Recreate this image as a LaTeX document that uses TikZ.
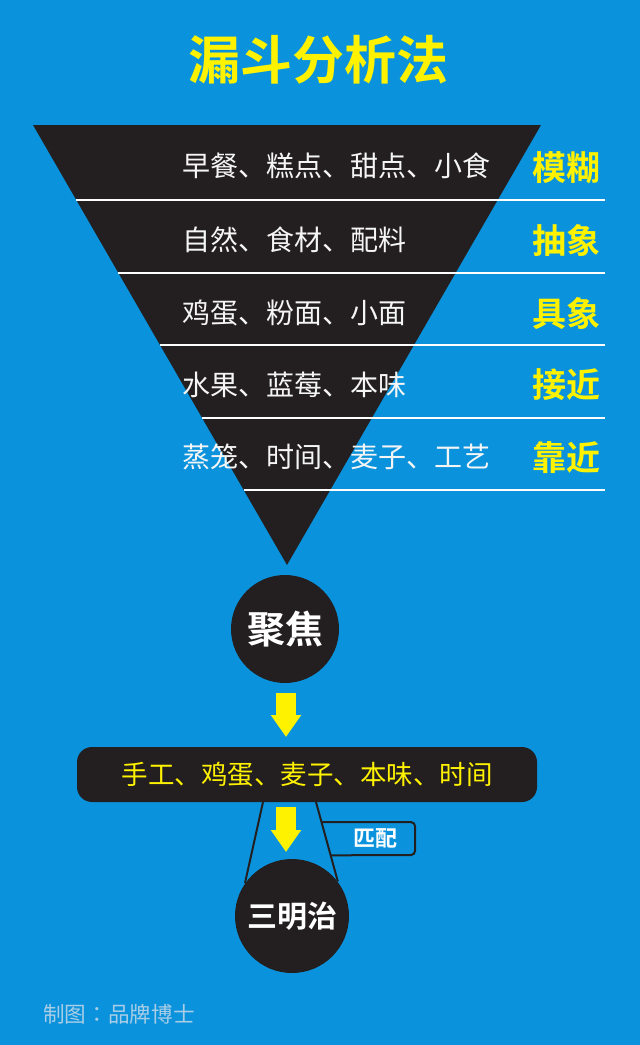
\documentclass[tikz,border=0pt]{standalone}
\usepackage{fontspec}
\setmainfont{Noto Sans CJK SC}[BoldFont={Noto Sans CJK SC Bold}]
\newfontfamily\cjktc{Noto Sans CJK TC}
\usepackage{tikz}
\usetikzlibrary{arrows.meta,calc}
\definecolor{bgblue}{HTML}{0A93DC}
\definecolor{cblack}{HTML}{231F20}
\definecolor{cyellow}{HTML}{FFF200}
\definecolor{cgrey}{HTML}{A9CDE6}

\begin{document}
\begin{tikzpicture}[x=0.5pt,y=-0.5pt,
    item/.style={anchor=west,text=white!92!gray,inner sep=0,font=\fontsize{14}{16}\selectfont},
    level/.style={text=cyellow,inner sep=0,font=\fontsize{17}{19}\selectfont\bfseries},
    sep/.style={white,line width=1pt},
    blob/.style={circle,fill=cblack,text=white,inner sep=0},
    fat/.style={cyellow,line width=10pt,-{Triangle[width=14.5pt,length=11pt]}},
    cone/.style={cblack,line width=1pt}]
      \useasboundingbox (0,0) rectangle (640,1045);
      \fill[bgblue] (0,0) rectangle (640,1045);
      \node[text=cyellow,font=\fontsize{26}{30}\selectfont\bfseries] (title) at (318,60) {漏斗分析法};
      \coordinate (tl) at (33,125);
      \coordinate (tr) at (541,125);
      \coordinate (tip) at (287,565);
      \fill[cblack] (tl) -- (tr) -- (tip) -- cycle;
      \coordinate (s1) at (76.3,200);
      \coordinate (s2) at (118.4,273);
      \coordinate (s3) at (160,345);
      \coordinate (s4) at (202.1,418);
      \coordinate (s5) at (243.6,490);
      \coordinate (e1) at (605,200);
      \coordinate (e2) at (605,273);
      \coordinate (e3) at (605,345);
      \coordinate (e4) at (605,418);
      \coordinate (e5) at (605,490);
      \draw[sep] (s1) -- (e1);
      \draw[sep] (s2) -- (e2);
      \draw[sep] (s3) -- (e3);
      \draw[sep] (s4) -- (e4);
      \draw[sep] (s5) -- (e5);
      \node[item] (r1) at (182,166) {早餐、糕点、甜点、小食};
      \node[item] (r2) at (182,240) {自然、食材、配料};
      \node[item] (r3) at (182,313) {鸡蛋、粉面、小面};
      \node[item] (r4) at (182,385) {水果、蓝莓、本味};
      \node[item] (r5) at (182,457) {蒸笼、时间、麦子、工艺};
      \node[level] (l1) at (566,168) {模糊};
      \node[level] (l2) at (566,241) {抽象};
      \node[level] (l3) at (566,314) {具象};
      \node[level] (l4) at (566,385) {接近};
      \node[level] (l5) at (566,458) {靠近};
      \node[blob,minimum size=54pt,font=\fontsize{19}{21}\selectfont\bfseries] (focus) at (285,629) {聚焦};
      \node[fill=cblack,text=cyellow,rounded corners=7.5pt,minimum width=230pt,minimum height=27.5pt,
            inner sep=0,font=\fontsize{13.25}{15}\selectfont] (mix) at (307,774.5) {手工、鸡蛋、麦子、本味、时间};
      \node[blob,minimum size=57pt,font=\fontsize{15}{17}\selectfont\bfseries] (sw) at (292,916) {三明治};
      \coordinate (a1) at (286,693);
      \coordinate (a2) at (286,737);
      \coordinate (a3) at (286,807);
      \coordinate (a4) at (286,852);
      \draw[fat] (a1) -- (a2);
      \draw[fat] (a3) -- (a4);
      \coordinate (f1) at (263,802);
      \coordinate (f2) at (316,802);
      \coordinate (p1) at ($(f2)!0.253!(sw.37)$);
      \coordinate (p2) at ($(f2)!0.671!(sw.37)$);
      \draw[cone,rounded corners=2pt] (p1) -| (415,855) -- (p2);
      \draw[cone] (f1) -- (sw.145);
      \draw[cone] (f2) -- (sw.37);
      \node[text=white,inner sep=0,font=\fontsize{11}{13}\selectfont\bfseries] (match) at (375,838) {匹配};
      \node[anchor=west,text=cgrey,inner sep=0,font=\cjktc\fontsize{10.8}{12}\selectfont] (credit) at (43,1014) {制图：品牌博士};
    \end{tikzpicture}
\end{document}
